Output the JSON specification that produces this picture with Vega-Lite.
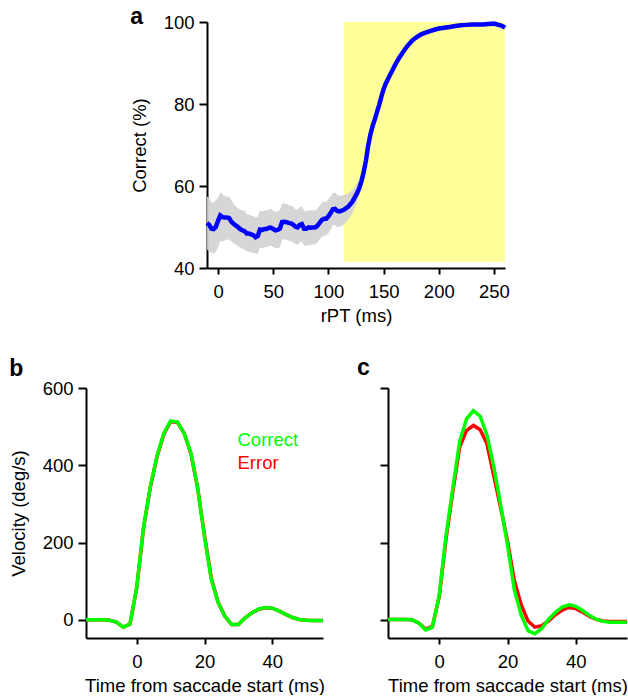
{
  "$schema": "https://vega.github.io/schema/vega-lite/v6.json",
  "padding": {"left": 9, "top": 6, "right": 0, "bottom": 0},
  "background": "white",
  "config": {
    "view": {"stroke": null},
    "font": "Liberation Sans",
    "axis": {
      "grid": false,
      "domainColor": "black",
      "domainWidth": 2,
      "tickColor": "black",
      "tickWidth": 2,
      "labelFontSize": 18.5,
      "labelColor": "black",
      "titleFontSize": 18.5,
      "titleFontWeight": "normal",
      "titleColor": "black"
    },
    "axisX": {"tickSize": 6, "labelPadding": 8, "titlePadding": 6},
    "axisY": {"tickSize": 8, "labelPadding": 5, "titlePadding": 14},
    "title": {"fontSize": 23, "fontWeight": "bold", "anchor": "start", "frame": "bounds", "baseline": "alphabetic", "color": "black"}
  },
  "datasets": {
    "pct": [
      {"t": -10, "p": 51.0, "lo": 44.5, "hi": 57.5},
      {"t": -8, "p": 50.5, "lo": 44.0, "hi": 57.0},
      {"t": -6, "p": 49.6, "lo": 43.8, "hi": 56.0},
      {"t": -4, "p": 49.5, "lo": 43.5, "hi": 56.0},
      {"t": -2, "p": 50.0, "lo": 44.0, "hi": 56.5},
      {"t": 0, "p": 51.5, "lo": 45.0, "hi": 57.0},
      {"t": 2, "p": 52.8, "lo": 46.5, "hi": 58.5},
      {"t": 4, "p": 52.4, "lo": 46.5, "hi": 58.0},
      {"t": 6, "p": 52.3, "lo": 46.7, "hi": 57.5},
      {"t": 8, "p": 52.3, "lo": 46.8, "hi": 57.5},
      {"t": 10, "p": 52.2, "lo": 47.0, "hi": 57.3},
      {"t": 12, "p": 51.3, "lo": 46.5, "hi": 56.5},
      {"t": 14, "p": 50.8, "lo": 46.0, "hi": 55.8},
      {"t": 16, "p": 50.4, "lo": 45.8, "hi": 55.0},
      {"t": 18, "p": 50.0, "lo": 45.3, "hi": 54.7},
      {"t": 20, "p": 49.5, "lo": 45.0, "hi": 54.2},
      {"t": 22, "p": 49.2, "lo": 44.7, "hi": 54.0},
      {"t": 24, "p": 49.0, "lo": 44.5, "hi": 54.0},
      {"t": 26, "p": 48.4, "lo": 44.0, "hi": 53.2},
      {"t": 28, "p": 48.4, "lo": 44.0, "hi": 53.0},
      {"t": 30, "p": 48.2, "lo": 43.8, "hi": 52.8},
      {"t": 32, "p": 48.0, "lo": 43.8, "hi": 52.6},
      {"t": 34, "p": 47.5, "lo": 43.5, "hi": 52.3},
      {"t": 36, "p": 47.8, "lo": 43.5, "hi": 52.5},
      {"t": 38, "p": 49.4, "lo": 45.0, "hi": 54.0},
      {"t": 40, "p": 49.3, "lo": 44.8, "hi": 53.8},
      {"t": 42, "p": 49.5, "lo": 45.0, "hi": 54.0},
      {"t": 44, "p": 49.5, "lo": 45.2, "hi": 54.0},
      {"t": 46, "p": 49.8, "lo": 45.3, "hi": 54.3},
      {"t": 48, "p": 49.8, "lo": 45.5, "hi": 54.5},
      {"t": 50, "p": 49.5, "lo": 45.1, "hi": 54.0},
      {"t": 52, "p": 49.2, "lo": 44.8, "hi": 53.7},
      {"t": 54, "p": 49.3, "lo": 44.8, "hi": 53.8},
      {"t": 56, "p": 49.6, "lo": 45.0, "hi": 54.2},
      {"t": 58, "p": 51.2, "lo": 46.8, "hi": 55.6},
      {"t": 60, "p": 51.3, "lo": 47.0, "hi": 55.8},
      {"t": 62, "p": 51.2, "lo": 46.9, "hi": 55.6},
      {"t": 64, "p": 51.0, "lo": 46.7, "hi": 55.3},
      {"t": 66, "p": 50.9, "lo": 46.5, "hi": 55.2},
      {"t": 68, "p": 50.6, "lo": 46.3, "hi": 55.0},
      {"t": 70, "p": 50.1, "lo": 45.8, "hi": 54.4},
      {"t": 72, "p": 49.9, "lo": 45.7, "hi": 54.2},
      {"t": 74, "p": 50.5, "lo": 46.2, "hi": 54.9},
      {"t": 76, "p": 50.7, "lo": 46.4, "hi": 55.0},
      {"t": 78, "p": 49.6, "lo": 45.4, "hi": 53.9},
      {"t": 80, "p": 49.6, "lo": 45.4, "hi": 53.8},
      {"t": 82, "p": 49.9, "lo": 45.7, "hi": 54.1},
      {"t": 84, "p": 49.8, "lo": 45.6, "hi": 54.0},
      {"t": 86, "p": 49.9, "lo": 45.8, "hi": 54.1},
      {"t": 88, "p": 49.9, "lo": 45.8, "hi": 54.1},
      {"t": 90, "p": 50.3, "lo": 46.2, "hi": 54.5},
      {"t": 92, "p": 51.0, "lo": 46.9, "hi": 55.2},
      {"t": 94, "p": 51.7, "lo": 47.6, "hi": 55.9},
      {"t": 96, "p": 52.0, "lo": 47.9, "hi": 56.2},
      {"t": 98, "p": 52.0, "lo": 47.9, "hi": 56.1},
      {"t": 100, "p": 52.6, "lo": 48.5, "hi": 56.8},
      {"t": 102, "p": 53.4, "lo": 49.4, "hi": 57.4},
      {"t": 104, "p": 54.3, "lo": 50.4, "hi": 58.3},
      {"t": 106, "p": 54.4, "lo": 50.5, "hi": 58.4},
      {"t": 108, "p": 53.9, "lo": 50.0, "hi": 57.8},
      {"t": 110, "p": 53.8, "lo": 50.0, "hi": 57.6},
      {"t": 112, "p": 54.0, "lo": 50.3, "hi": 57.7},
      {"t": 114, "p": 54.2, "lo": 50.6, "hi": 57.8},
      {"t": 116, "p": 54.6, "lo": 51.2, "hi": 58.0},
      {"t": 118, "p": 55.0, "lo": 51.8, "hi": 58.2},
      {"t": 120, "p": 55.6, "lo": 52.6, "hi": 58.6},
      {"t": 122, "p": 56.3, "lo": 53.5, "hi": 59.1},
      {"t": 124, "p": 57.3, "lo": 54.8, "hi": 59.8},
      {"t": 126, "p": 58.3, "lo": 56.0, "hi": 60.6},
      {"t": 128, "p": 59.5, "lo": 57.5, "hi": 61.5},
      {"t": 130, "p": 61.2, "lo": 59.4, "hi": 63.0},
      {"t": 132, "p": 63.5, "lo": 61.8, "hi": 65.2},
      {"t": 134, "p": 66.2, "lo": 64.7, "hi": 67.7},
      {"t": 136, "p": 69.8, "lo": 68.5, "hi": 71.1},
      {"t": 138, "p": 72.5, "lo": 71.3, "hi": 73.7},
      {"t": 140, "p": 74.6, "lo": 73.5, "hi": 75.7},
      {"t": 142, "p": 76.2, "lo": 75.2, "hi": 77.2},
      {"t": 144, "p": 78.0, "lo": 77.0, "hi": 79.0},
      {"t": 146, "p": 79.8, "lo": 78.9, "hi": 80.7},
      {"t": 148, "p": 81.8, "lo": 80.9, "hi": 82.7},
      {"t": 150, "p": 83.6, "lo": 82.8, "hi": 84.4},
      {"t": 152, "p": 85.0, "lo": 84.2, "hi": 85.8},
      {"t": 154, "p": 86.1, "lo": 85.3, "hi": 86.9},
      {"t": 156, "p": 87.2, "lo": 86.5, "hi": 87.9},
      {"t": 158, "p": 88.2, "lo": 87.5, "hi": 88.9},
      {"t": 160, "p": 89.3, "lo": 88.6, "hi": 90.0},
      {"t": 162, "p": 90.3, "lo": 89.6, "hi": 91.0},
      {"t": 164, "p": 91.2, "lo": 90.5, "hi": 91.9},
      {"t": 166, "p": 92.0, "lo": 91.4, "hi": 92.6},
      {"t": 168, "p": 92.8, "lo": 92.2, "hi": 93.4},
      {"t": 170, "p": 93.6, "lo": 93.0, "hi": 94.2},
      {"t": 172, "p": 94.3, "lo": 93.7, "hi": 94.9},
      {"t": 174, "p": 94.9, "lo": 94.4, "hi": 95.4},
      {"t": 176, "p": 95.5, "lo": 95.0, "hi": 96.0},
      {"t": 178, "p": 95.9, "lo": 95.4, "hi": 96.4},
      {"t": 180, "p": 96.3, "lo": 95.8, "hi": 96.8},
      {"t": 184, "p": 97.0, "lo": 96.5, "hi": 97.5},
      {"t": 188, "p": 97.4, "lo": 96.9, "hi": 97.9},
      {"t": 192, "p": 97.8, "lo": 97.4, "hi": 98.2},
      {"t": 196, "p": 98.1, "lo": 97.7, "hi": 98.5},
      {"t": 200, "p": 98.4, "lo": 98.0, "hi": 98.8},
      {"t": 205, "p": 98.6, "lo": 98.2, "hi": 99.0},
      {"t": 210, "p": 98.8, "lo": 98.4, "hi": 99.2},
      {"t": 215, "p": 99.0, "lo": 98.6, "hi": 99.4},
      {"t": 220, "p": 99.2, "lo": 98.8, "hi": 99.6},
      {"t": 225, "p": 99.3, "lo": 98.9, "hi": 99.7},
      {"t": 230, "p": 99.4, "lo": 99.0, "hi": 99.8},
      {"t": 235, "p": 99.4, "lo": 99.0, "hi": 99.8},
      {"t": 240, "p": 99.4, "lo": 99.0, "hi": 99.8},
      {"t": 245, "p": 99.5, "lo": 99.1, "hi": 99.9},
      {"t": 250, "p": 99.6, "lo": 99.2, "hi": 100.0},
      {"t": 253, "p": 99.4, "lo": 99.0, "hi": 99.8},
      {"t": 256, "p": 99.2, "lo": 98.7, "hi": 99.7},
      {"t": 259, "p": 98.8, "lo": 98.3, "hi": 99.3},
      {"t": 260, "p": 98.6, "lo": 98.1, "hi": 99.1}
    ],
    "window": [{"x1": 114, "x2": 260, "y1": 41.5, "y2": 100}],
    "velB": [
      {"ms": -16, "v": 0, "type": "Error"}, {"ms": -14, "v": 0, "type": "Error"}, {"ms": -12, "v": 0, "type": "Error"}, {"ms": -10, "v": 0, "type": "Error"},
      {"ms": -8, "v": -1, "type": "Error"}, {"ms": -6, "v": -6, "type": "Error"}, {"ms": -4, "v": -19, "type": "Error"}, {"ms": -2, "v": -11, "type": "Error"},
      {"ms": 0, "v": 84, "type": "Error"}, {"ms": 2, "v": 238, "type": "Error"}, {"ms": 4, "v": 343, "type": "Error"}, {"ms": 6, "v": 423, "type": "Error"},
      {"ms": 8, "v": 481, "type": "Error"}, {"ms": 10, "v": 513, "type": "Error"}, {"ms": 12, "v": 511, "type": "Error"}, {"ms": 14, "v": 483, "type": "Error"},
      {"ms": 16, "v": 430, "type": "Error"}, {"ms": 18, "v": 340, "type": "Error"}, {"ms": 20, "v": 218, "type": "Error"}, {"ms": 22, "v": 108, "type": "Error"},
      {"ms": 24, "v": 46, "type": "Error"}, {"ms": 26, "v": 10, "type": "Error"}, {"ms": 28, "v": -12, "type": "Error"}, {"ms": 30, "v": -12, "type": "Error"},
      {"ms": 32, "v": 5, "type": "Error"}, {"ms": 34, "v": 18, "type": "Error"}, {"ms": 36, "v": 27, "type": "Error"}, {"ms": 38, "v": 31, "type": "Error"},
      {"ms": 40, "v": 30, "type": "Error"}, {"ms": 42, "v": 23, "type": "Error"}, {"ms": 44, "v": 14, "type": "Error"}, {"ms": 46, "v": 6, "type": "Error"},
      {"ms": 48, "v": 1, "type": "Error"}, {"ms": 50, "v": -1, "type": "Error"}, {"ms": 52, "v": -2, "type": "Error"}, {"ms": 54, "v": -2, "type": "Error"}, {"ms": 56, "v": -2, "type": "Error"},
      {"ms": -16, "v": 0, "type": "Correct"}, {"ms": -14, "v": 0, "type": "Correct"}, {"ms": -12, "v": 0, "type": "Correct"}, {"ms": -10, "v": 0, "type": "Correct"},
      {"ms": -8, "v": -1, "type": "Correct"}, {"ms": -6, "v": -6, "type": "Correct"}, {"ms": -4, "v": -19, "type": "Correct"}, {"ms": -2, "v": -11, "type": "Correct"},
      {"ms": 0, "v": 85, "type": "Correct"}, {"ms": 2, "v": 240, "type": "Correct"}, {"ms": 4, "v": 345, "type": "Correct"}, {"ms": 6, "v": 425, "type": "Correct"},
      {"ms": 8, "v": 483, "type": "Correct"}, {"ms": 10, "v": 515, "type": "Correct"}, {"ms": 12, "v": 512, "type": "Correct"}, {"ms": 14, "v": 483, "type": "Correct"},
      {"ms": 16, "v": 432, "type": "Correct"}, {"ms": 18, "v": 340, "type": "Correct"}, {"ms": 20, "v": 215, "type": "Correct"}, {"ms": 22, "v": 105, "type": "Correct"},
      {"ms": 24, "v": 45, "type": "Correct"}, {"ms": 26, "v": 10, "type": "Correct"}, {"ms": 28, "v": -12, "type": "Correct"}, {"ms": 30, "v": -12, "type": "Correct"},
      {"ms": 32, "v": 5, "type": "Correct"}, {"ms": 34, "v": 18, "type": "Correct"}, {"ms": 36, "v": 28, "type": "Correct"}, {"ms": 38, "v": 32, "type": "Correct"},
      {"ms": 40, "v": 30, "type": "Correct"}, {"ms": 42, "v": 23, "type": "Correct"}, {"ms": 44, "v": 14, "type": "Correct"}, {"ms": 46, "v": 6, "type": "Correct"},
      {"ms": 48, "v": 1, "type": "Correct"}, {"ms": 50, "v": -1, "type": "Correct"}, {"ms": 52, "v": -2, "type": "Correct"}, {"ms": 54, "v": -2, "type": "Correct"}, {"ms": 56, "v": -2, "type": "Correct"}
    ],
    "velC": [
      {"ms": -16, "v": 1, "type": "Error"}, {"ms": -14, "v": 1, "type": "Error"}, {"ms": -12, "v": 1, "type": "Error"}, {"ms": -10, "v": 1, "type": "Error"},
      {"ms": -8, "v": 0, "type": "Error"}, {"ms": -6, "v": -8, "type": "Error"}, {"ms": -4, "v": -24, "type": "Error"}, {"ms": -2, "v": -17, "type": "Error"},
      {"ms": 0, "v": 60, "type": "Error"}, {"ms": 2, "v": 210, "type": "Error"}, {"ms": 4, "v": 333, "type": "Error"}, {"ms": 6, "v": 448, "type": "Error"},
      {"ms": 8, "v": 490, "type": "Error"}, {"ms": 10, "v": 503, "type": "Error"}, {"ms": 12, "v": 492, "type": "Error"}, {"ms": 14, "v": 455, "type": "Error"},
      {"ms": 16, "v": 372, "type": "Error"}, {"ms": 18, "v": 290, "type": "Error"}, {"ms": 20, "v": 204, "type": "Error"}, {"ms": 22, "v": 102, "type": "Error"},
      {"ms": 24, "v": 39, "type": "Error"}, {"ms": 26, "v": -3, "type": "Error"}, {"ms": 28, "v": -19, "type": "Error"}, {"ms": 30, "v": -15, "type": "Error"},
      {"ms": 32, "v": -3, "type": "Error"}, {"ms": 34, "v": 13, "type": "Error"}, {"ms": 36, "v": 25, "type": "Error"}, {"ms": 38, "v": 32, "type": "Error"},
      {"ms": 40, "v": 29, "type": "Error"}, {"ms": 42, "v": 20, "type": "Error"}, {"ms": 44, "v": 9, "type": "Error"}, {"ms": 46, "v": 1, "type": "Error"},
      {"ms": 48, "v": -3, "type": "Error"}, {"ms": 50, "v": -4, "type": "Error"}, {"ms": 52, "v": -4, "type": "Error"}, {"ms": 54, "v": -4, "type": "Error"}, {"ms": 56, "v": -4, "type": "Error"},
      {"ms": -16, "v": 1, "type": "Correct"}, {"ms": -14, "v": 1, "type": "Correct"}, {"ms": -12, "v": 1, "type": "Correct"}, {"ms": -10, "v": 1, "type": "Correct"},
      {"ms": -8, "v": 0, "type": "Correct"}, {"ms": -6, "v": -8, "type": "Correct"}, {"ms": -4, "v": -26, "type": "Correct"}, {"ms": -2, "v": -19, "type": "Correct"},
      {"ms": 0, "v": 63, "type": "Correct"}, {"ms": 2, "v": 218, "type": "Correct"}, {"ms": 4, "v": 342, "type": "Correct"}, {"ms": 6, "v": 462, "type": "Correct"},
      {"ms": 8, "v": 520, "type": "Correct"}, {"ms": 10, "v": 541, "type": "Correct"}, {"ms": 12, "v": 527, "type": "Correct"}, {"ms": 14, "v": 478, "type": "Correct"},
      {"ms": 16, "v": 395, "type": "Correct"}, {"ms": 18, "v": 297, "type": "Correct"}, {"ms": 20, "v": 194, "type": "Correct"}, {"ms": 22, "v": 78, "type": "Correct"},
      {"ms": 24, "v": 13, "type": "Correct"}, {"ms": 26, "v": -28, "type": "Correct"}, {"ms": 28, "v": -36, "type": "Correct"}, {"ms": 30, "v": -23, "type": "Correct"},
      {"ms": 32, "v": 1, "type": "Correct"}, {"ms": 34, "v": 19, "type": "Correct"}, {"ms": 36, "v": 33, "type": "Correct"}, {"ms": 38, "v": 39, "type": "Correct"},
      {"ms": 40, "v": 35, "type": "Correct"}, {"ms": 42, "v": 24, "type": "Correct"}, {"ms": 44, "v": 11, "type": "Correct"}, {"ms": 46, "v": 2, "type": "Correct"},
      {"ms": 48, "v": -4, "type": "Correct"}, {"ms": 50, "v": -6, "type": "Correct"}, {"ms": 52, "v": -6, "type": "Correct"}, {"ms": 54, "v": -6, "type": "Correct"}, {"ms": 56, "v": -6, "type": "Correct"}
    ]
  },
  "vconcat": [
    {
      "hconcat": [
        {
          "width": 44,
          "height": 10,
          "data": {"values": []},
          "mark": "point"
        },
        {
          "title": {"text": "a", "offset": -16},
          "width": 298,
          "height": 246,
          "layer": [
            {
              "data": {"name": "window"},
              "mark": {"type": "rect", "color": "#ffff99"},
              "encoding": {
                "x": {"field": "x1", "type": "quantitative", "scale": {"domain": [-10, 260], "nice": false, "zero": false},
                      "axis": {"title": "rPT (ms)", "values": [0, 50, 100, 150, 200, 250]}},
                "x2": {"field": "x2"},
                "y": {"field": "y1", "type": "quantitative", "scale": {"domain": [40, 100], "nice": false, "zero": false},
                      "axis": {"title": "Correct (%)", "values": [40, 60, 80, 100]}},
                "y2": {"field": "y2"}
              }
            },
            {
              "data": {"name": "pct"},
              "mark": {"type": "area", "color": "#d2d2d2", "opacity": 0.9},
              "encoding": {
                "x": {"field": "t", "type": "quantitative"},
                "y": {"field": "lo", "type": "quantitative"},
                "y2": {"field": "hi"}
              }
            },
            {
              "data": {"name": "pct"},
              "mark": {"type": "line", "color": "#0000ff", "strokeWidth": 4.5},
              "encoding": {
                "x": {"field": "t", "type": "quantitative"},
                "y": {"field": "p", "type": "quantitative"}
              }
            }
          ]
        }
      ],
      "spacing": 0
    },
    {
      "hconcat": [
        {
          "title": {"text": "b", "offset": -2},
          "width": 237,
          "height": 250,
          "data": {"name": "velB"},
          "layer": [
            {
              "transform": [{"filter": "datum.type == 'Error'"}],
              "mark": {"type": "line", "strokeWidth": 3.5, "clip": true},
              "encoding": {
                "x": {"field": "ms", "type": "quantitative", "scale": {"domain": [-15, 55], "nice": false, "zero": false},
                      "axis": {"title": "Time from saccade start (ms)", "values": [0, 20, 40]}},
                "y": {"field": "v", "type": "quantitative", "scale": {"domain": [-47, 600], "nice": false},
                      "axis": {"title": "Velocity (deg/s)", "values": [0, 200, 400, 600]}},
                "color": {"field": "type", "type": "nominal",
                          "scale": {"domain": ["Correct", "Error"], "range": ["#00ff00", "#ff0000"]},
                          "legend": {"orient": "none", "legendX": 133, "legendY": 43, "title": null,
                                     "symbolSize": 0, "symbolOpacity": 0, "symbolStrokeWidth": 0, "labelOffset": 0,
                                     "labelFontSize": 18.5, "rowPadding": 4,
                                     "labelColor": {"expr": "datum.label == 'Correct' ? '#00ff00' : '#ff0000'"}}}
              }
            },
            {
              "transform": [{"filter": "datum.type == 'Correct'"}],
              "mark": {"type": "line", "strokeWidth": 3.5, "clip": true},
              "encoding": {
                "x": {"field": "ms", "type": "quantitative"},
                "y": {"field": "v", "type": "quantitative"},
                "color": {"field": "type", "type": "nominal"}
              }
            }
          ]
        },
        {
          "title": {"text": "c", "offset": 7, "dx": -22},
          "width": 239,
          "height": 250,
          "data": {"name": "velC"},
          "layer": [
            {
              "transform": [{"filter": "datum.type == 'Error'"}],
              "mark": {"type": "line", "strokeWidth": 3.5, "clip": true},
              "encoding": {
                "x": {"field": "ms", "type": "quantitative", "scale": {"domain": [-15, 55], "nice": false, "zero": false},
                      "axis": {"title": "Time from saccade start (ms)", "values": [0, 20, 40]}},
                "y": {"field": "v", "type": "quantitative", "scale": {"domain": [-47, 600], "nice": false},
                      "axis": {"title": null, "labels": false, "values": [0, 200, 400, 600]}},
                "color": {"field": "type", "type": "nominal",
                          "scale": {"domain": ["Correct", "Error"], "range": ["#00ff00", "#ff0000"]},
                          "legend": null}
              }
            },
            {
              "transform": [{"filter": "datum.type == 'Correct'"}],
              "mark": {"type": "line", "strokeWidth": 3.5, "clip": true},
              "encoding": {
                "x": {"field": "ms", "type": "quantitative"},
                "y": {"field": "v", "type": "quantitative"},
                "color": {"field": "type", "type": "nominal", "legend": null}
              }
            }
          ]
        }
      ],
      "spacing": 32,
      "resolve": {"scale": {"color": "independent", "x": "independent", "y": "independent"}, "legend": {"color": "independent"}}
    }
  ],
  "spacing": 32
}
